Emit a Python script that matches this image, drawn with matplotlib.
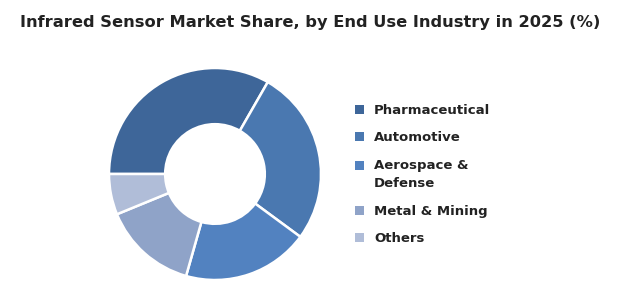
import matplotlib
matplotlib.use("Agg")
import matplotlib.pyplot as plt
from matplotlib.patches import Patch

categories = ["Pharmaceutical", "Automotive", "Aerospace &\nDefense", "Metal & Mining", "Others"]
shares = [33.3, 26.8, 19.3, 14.4, 6.2]
colors = ["#3e6699", "#4a78b0", "#5282c0", "#8fa3c8", "#b0bdd8"]

fig = plt.figure(figsize=(6.2, 3.0), dpi=100)
ax = fig.add_axes([109/620, 1 - (174+106)/300, 212/620, 212/300])
wedges, _ = ax.pie(shares, colors=colors, startangle=180, counterclock=False, radius=1.0,
                   wedgeprops=dict(width=0.53, edgecolor="white", linewidth=1.8))
ax.set_xlim(-1.0, 1.0)
ax.set_ylim(-1.0, 1.0)
ax.set_aspect("equal")
ax.axis("off")

fig.text(0.5, 1 - 22/300, "Infrared Sensor Market Share, by End Use Industry in 2025 (%)",
         ha="center", va="center", fontsize=11.7, fontweight="bold", color="#222222",
         family="DejaVu Sans")

handles = [Patch(facecolor=w.get_facecolor(), edgecolor="none") for w in wedges]
leg = fig.legend(handles, categories, loc="upper left", bbox_to_anchor=(343/620, 1 - 92/300),
                 frameon=False, prop=dict(family="DejaVu Sans", weight="bold", size=9.5),
                 handlelength=0.7, handleheight=0.7, handletextpad=0.75, labelspacing=1.1,
                 labelcolor="#222222")
for t in leg.get_texts():
    t.set_linespacing(1.55)
# put the marker of the two-line entry beside its first line
h = leg.legend_handles[2]
h.set_y(h.get_y() + 6.8)

fig.savefig("out.png", dpi=100, facecolor="white")
